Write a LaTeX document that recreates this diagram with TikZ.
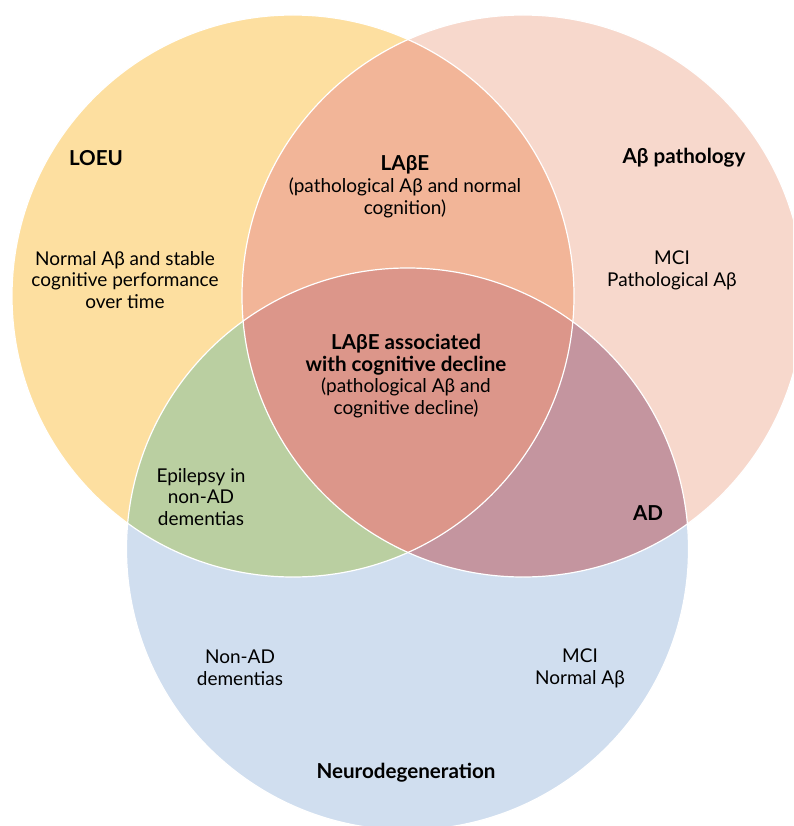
\documentclass[tikz,border=0pt]{standalone}
\usepackage{fontspec}
\setmainfont{Lato}

\definecolor{loeuyellow}{HTML}{FDDFA0}
\definecolor{abetapink}{HTML}{F7D8CC}
\definecolor{neuroblue}{HTML}{D0DEEF}
\definecolor{labesalmon}{HTML}{F2B598}
\definecolor{declinered}{HTML}{DC968A}
\definecolor{epigreen}{HTML}{BACFA1}
\definecolor{admauve}{HTML}{C4959F}

\newcommand{\vennbf}[1]{{\fontsize{20.6}{21.8}\selectfont\bfseries #1}}

\tikzset{
	venntext/.style={align=center, inner sep=0pt, font=\fontsize{19}{21.8}\selectfont},
	venntitle/.style={venntext, font=\fontsize{20.6}{21.8}\selectfont\bfseries},
	ring/.style={draw=white, line width=1.2pt}
}

\begin{document}
\begin{tikzpicture}[x=1pt, y=-1pt]

\useasboundingbox (0,0) rectangle (793,826);
\clip (0,0) rectangle (793,826);

	%circle centres
\coordinate (loeuc) at (293,296);
\coordinate (abetac) at (523,296);
\coordinate (neuroc) at (407.5,549);

	%single sets
\fill[loeuyellow] (loeuc) circle[radius=281pt];
\fill[abetapink] (abetac) circle[radius=281pt];
\fill[neuroblue] (neuroc) circle[radius=281pt];

	%LOEU and Abeta
\begin{scope}
	\clip (loeuc) circle[radius=281pt];
	\fill[labesalmon] (abetac) circle[radius=281pt];
\end{scope}

	%LOEU and neurodegeneration
\begin{scope}
	\clip (loeuc) circle[radius=281pt];
	\fill[epigreen] (neuroc) circle[radius=281pt];
\end{scope}

	%Abeta and neurodegeneration
\begin{scope}
	\clip (abetac) circle[radius=281pt];
	\fill[admauve] (neuroc) circle[radius=281pt];
\end{scope}

	%all three
\begin{scope}
	\clip (loeuc) circle[radius=281pt];
	\clip (abetac) circle[radius=281pt];
	\fill[declinered] (neuroc) circle[radius=281pt];
\end{scope}

	%white rims
\draw[ring] (loeuc) circle[radius=281pt];
\draw[ring] (abetac) circle[radius=281pt];
\draw[ring] (neuroc) circle[radius=281pt];

	%texts
\node[venntitle] (loeu) at (96,158) {LOEU};
\node[venntext] (stable) at (125,280) {Normal Aβ and stable\\cognitive performance\\over time};

\node[venntext] (labe) at (405,187) {\vennbf{LAβE}\\(pathological Aβ and normal\\cognition)};

\node[venntitle] (abeta) at (684,158) {Aβ pathology};
\node[venntext] (mcipath) at (672,270) {MCI\\Pathological Aβ};

\node[venntext] (decline) at (406,376) {\vennbf{LAβE associated}\\\vennbf{with cognitive decline}\\(pathological Aβ and\\cognitive decline)};

\node[venntext] (epilepsy) at (201,497) {Epilepsy in\\non-AD\\dementias};
\node[venntitle] (ad) at (648,513) {AD};

\node[venntext] (nonad) at (240,668) {Non-AD\\dementias};
\node[venntext] (mcinormal) at (580,668) {MCI\\Normal Aβ};

\node[venntitle] (neuro) at (406,773) {Neurodegeneration};

\end{tikzpicture}
\end{document}
